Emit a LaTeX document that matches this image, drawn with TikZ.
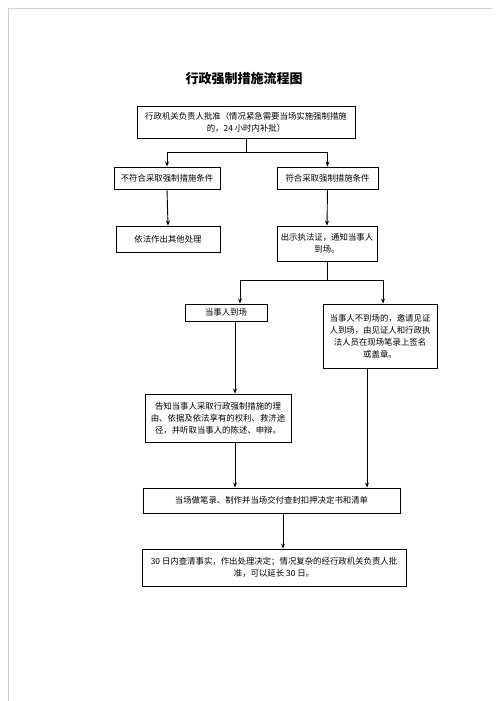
\documentclass[tikz,border=0pt]{standalone}
\usepackage{fontspec}
\setmainfont{Noto Sans CJK SC}
\usetikzlibrary{arrows.meta}
\tikzset{
  box/.style={draw=black, line width=0.9pt, rectangle, inner sep=0pt, align=center,
    font=\fontsize{8.4}{12}\selectfont},
  conn/.style={draw=black, line width=0.9pt},
  arr/.style={conn, -{Stealth[length=5pt,width=4pt]}},
  pageedge/.style={draw=black!18, line width=0.7pt}
}
\begin{document}
\begin{tikzpicture}[x=1pt,y=-1pt]
\useasboundingbox (0,0) rectangle (500,701);
\fill[white] (0,0) rectangle (500,701);
% faint page edges
\coordinate (pTL) at (8,8);
\coordinate (pTR) at (492,8);
\coordinate (pBL) at (8,701);
\draw[pageedge] (pTR) -- (pTL) -- (pBL);

\node[font=\fontsize{13}{15}\bfseries\selectfont] (title) at (244,79) {行政强制措施流程图};

\node[box, minimum width=218pt, minimum height=32pt] (b1) at (246,122.5)
  {行政机关负责人批准（情况紧急需要当场实施强制措施\\的，24 小时内补批）};

\node[box, minimum width=106pt, minimum height=22pt] (b2l) at (167,178) {不符合采取强制措施条件};
\node[box, minimum width=101pt, minimum height=22pt] (b2r) at (327.5,178) {符合采取强制措施条件};

\node[box, minimum width=104pt, minimum height=26pt] (b3l) at (168,239) {依法作出其他处理};
\node[box, minimum width=100pt, minimum height=35pt] (b3r) at (327,243.5)
  {出示执法证，通知当事人\\到场。};

\node[box, minimum width=82pt, minimum height=17pt] (b4l) at (226,312.5) {当事人到场};
\node[box, minimum width=114pt, minimum height=64pt] (b4r) at (380,336)
  {当事人不到场的，邀请见证\\人到场，由见证人和行政执\\法人员在现场笔录上签名\\或盖章。};

\node[box, minimum width=146pt, minimum height=48pt] (b5) at (218,418)
  {告知当事人采取行政强制措施的理\\由、依据及依法享有的权利、救济途\\径，并听取当事人的陈述、申辩。};

\node[box, minimum width=257pt, minimum height=25pt] (b6) at (271.5,500.5)
  {当场做笔录、制作并当场交付查封扣押决定书和清单};

\node[box, minimum width=264pt, minimum height=37pt] (b7) at (274,567.5)
  {30 日内查清事实，作出处理决定；情况复杂的经行政机关负责人批\\准，可以延长 30 日。};

% connectors
\coordinate (f1) at (246,152);
\draw[conn] (b1.south) -- (f1);
\draw[arr] (f1) -| (b2l.north);
\draw[arr] (f1) -| (b2r.north);
\draw[arr] (b2l.south) -- (b3l.north);
\draw[arr] (b2r.south) -- (b3r.north);

\coordinate (f2) at (327,280);
\coordinate (x4l) at (240,0);
\coordinate (x4r) at (383,0);
\draw[conn] (b3r.south) -- (f2);
\draw[arr] (f2) -| (b4l.north -| x4l);
\draw[arr] (f2) -| (b4r.north -| x4r);

\coordinate (xl) at (235,0);
\coordinate (xr) at (367,0);
\coordinate (x6) at (283,0);
\draw[arr] (b4l.south -| xl) -- (b5.north -| xl);
\draw[arr] (b5.south -| xl) -- (b6.north -| xl);
\draw[arr] (b4r.south -| xr) -- (b6.north -| xr);
\draw[arr] (b6.south -| x6) -- (b7.north -| x6);
\end{tikzpicture}
\end{document}
